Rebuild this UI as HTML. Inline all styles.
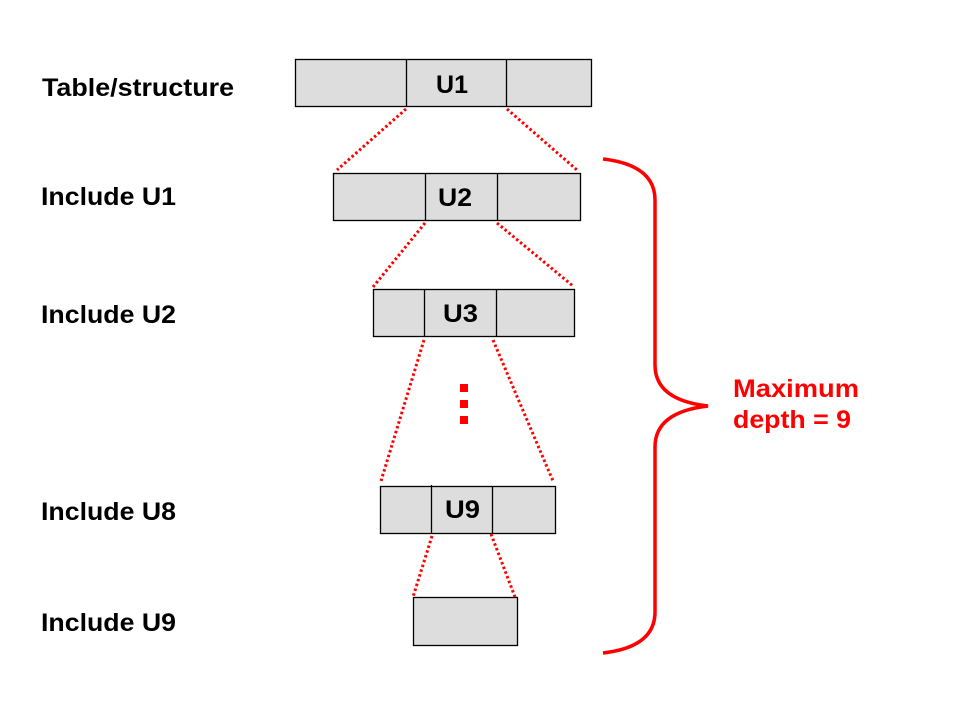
<!DOCTYPE html>
<html><head><meta charset="utf-8"><style>html,body{margin:0;padding:0;background:#fff}svg{display:block}</style></head>
<body>
<svg width="960" height="720" viewBox="0 0 960 720" xmlns="http://www.w3.org/2000/svg" font-family="Liberation Sans, Arial, sans-serif" font-weight="bold">
<g fill="#dddddd" stroke="#000" stroke-width="1.3">
<rect x="295.5" y="59.5" width="296" height="47"/>
<line x1="406.5" y1="59" x2="406.5" y2="107"/><line x1="506.5" y1="59" x2="506.5" y2="107"/>
<rect x="333.5" y="173.5" width="247" height="47"/>
<line x1="425.5" y1="173" x2="425.5" y2="221"/><line x1="497.5" y1="173" x2="497.5" y2="221"/>
<rect x="373.5" y="289.5" width="201" height="47"/>
<line x1="424.5" y1="289" x2="424.5" y2="337"/><line x1="496.5" y1="289" x2="496.5" y2="337"/>
<rect x="380.5" y="486.5" width="175" height="47"/>
<line x1="431.5" y1="485" x2="431.5" y2="534"/><line x1="492.5" y1="486" x2="492.5" y2="534"/>
<rect x="413.5" y="597.5" width="104" height="48"/>
</g>
<g stroke="#ff0000" stroke-width="3" stroke-dasharray="2.5 2.5" fill="none">
<line x1="406" y1="109" x2="337" y2="170"/><line x1="507" y1="109" x2="577" y2="170"/>
<line x1="425" y1="223" x2="373" y2="287"/><line x1="497" y1="223" x2="573" y2="286"/>
<line x1="424" y1="340" x2="381" y2="481"/><line x1="493" y1="340" x2="553" y2="481"/>
<line x1="432" y1="536" x2="413" y2="597"/><line x1="491" y1="534" x2="515" y2="597"/>
</g>
<g fill="#ff0000">
<rect x="460" y="384" width="8" height="8"/><rect x="460" y="400" width="8" height="8"/><rect x="460" y="416" width="8" height="8"/>
</g>
<path d="M603,159 Q655,165 655,200 L655,365 Q655,400 708,406 Q655,412 655,447 L655,612 Q655,647 603,653" fill="none" stroke="#ff0000" stroke-width="3.5"/>
<g font-size="25" fill="#000">
<text x="436" y="93" textLength="32" lengthAdjust="spacingAndGlyphs">U1</text>
<text x="438" y="206" textLength="34" lengthAdjust="spacingAndGlyphs">U2</text>
<text x="443" y="322" textLength="35" lengthAdjust="spacingAndGlyphs">U3</text>
<text x="445" y="518" textLength="35" lengthAdjust="spacingAndGlyphs">U9</text>
</g>
<g font-size="25" fill="#000">
<text x="42" y="96" textLength="192" lengthAdjust="spacingAndGlyphs">Table/structure</text>
<text x="41" y="205" textLength="135" lengthAdjust="spacingAndGlyphs">Include U1</text>
<text x="41" y="323" textLength="135" lengthAdjust="spacingAndGlyphs">Include U2</text>
<text x="41" y="520" textLength="135" lengthAdjust="spacingAndGlyphs">Include U8</text>
<text x="41" y="631" textLength="135" lengthAdjust="spacingAndGlyphs">Include U9</text>
</g>
<g font-size="25" fill="#ff0000">
<text x="733" y="397" textLength="126" lengthAdjust="spacingAndGlyphs">Maximum</text>
<text x="733" y="428" textLength="118" lengthAdjust="spacingAndGlyphs">depth = 9</text>
</g>
</svg>
</body></html>
